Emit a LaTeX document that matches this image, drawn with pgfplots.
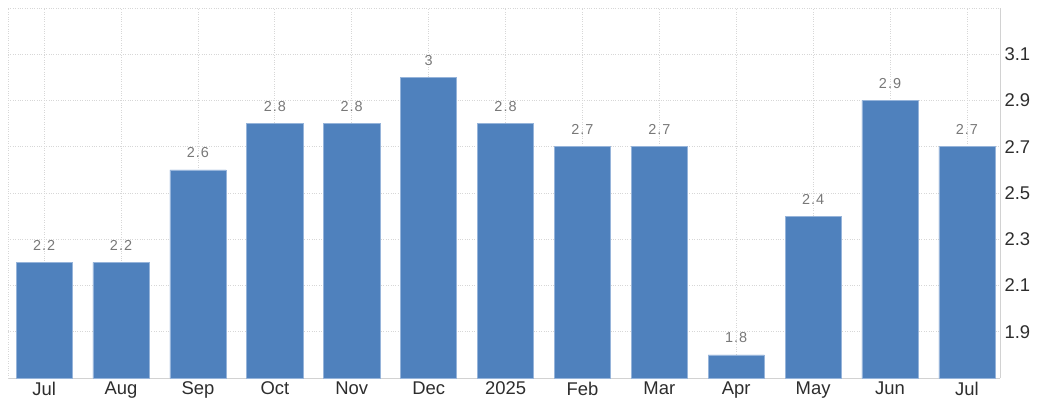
\documentclass[border=0pt]{standalone}
\usepackage{pgfplots}
\pgfplotsset{compat=1.18}
\usepackage{fontspec}
\setmainfont{Liberation Sans}
\newfontfamily\spaced[LetterSpace=7]{Liberation Sans}
\definecolor{barblue}{RGB}{79,129,189}
\definecolor{baredge}{RGB}{150,180,218}
\definecolor{gridgray}{RGB}{215,215,215}
\definecolor{axgray}{RGB}{210,210,210}
\definecolor{lblgray}{RGB}{120,120,120}
\definecolor{tickgray}{RGB}{45,45,45}
\begin{document}
\begin{tikzpicture}
\begin{axis}[
  scale only axis, width=992bp, height=370bp,
  xmin=-0.47, xmax=12.43, ymin=1.7, ymax=3.3,
  axis x line*=bottom, axis y line*=right,
  axis line style={draw=axgray, line width=1pt, -},
  xtick={0,1,2,3,4,5,6,7,8,9,10,11,12},
  xticklabels={Jul,Aug,Sep,Oct,Nov,Dec,2025,Feb,Mar,Apr,May,Jun,Jul},
  ytick={1.9,2.1,2.3,2.5,2.7,2.9,3.1},
  extra x ticks={-0.47}, extra x tick labels={},
  extra y ticks={3.3}, extra y tick labels={},
  extra tick style={grid=major},
  grid=major, grid style={gridgray, dotted, line width=0.8pt},
  major tick length=0,
  tick label style={font=\fontsize{18.5}{21}\selectfont, text=tickgray},
  xticklabel style={yshift=-0.5bp},
  yticklabel style={/pgf/number format/fixed, /pgf/number format/precision=1, /pgf/number format/fixed zerofill, xshift=1bp},
  /pgf/number format/assume math mode=true,
]
\addplot[ybar, bar width=0.73, fill=barblue, draw=baredge, line width=0.6bp,
  nodes near coords,
  nodes near coords style={font=\spaced\fontsize{14.5}{16}\selectfont, text=lblgray, anchor=center, yshift=17bp, /pgf/number format/assume math mode=true}]
  coordinates {(0,2.2) (1,2.2) (2,2.6) (3,2.8) (4,2.8) (5,3.0) (6,2.8) (7,2.7) (8,2.7) (9,1.8) (10,2.4) (11,2.9) (12,2.7)};
\end{axis}
\pgfresetboundingbox
\path ([shift={(-8bp,-27bp)}]current axis.south west) rectangle ([shift={(38bp,8bp)}]current axis.north east);
\end{tikzpicture}
\end{document}
